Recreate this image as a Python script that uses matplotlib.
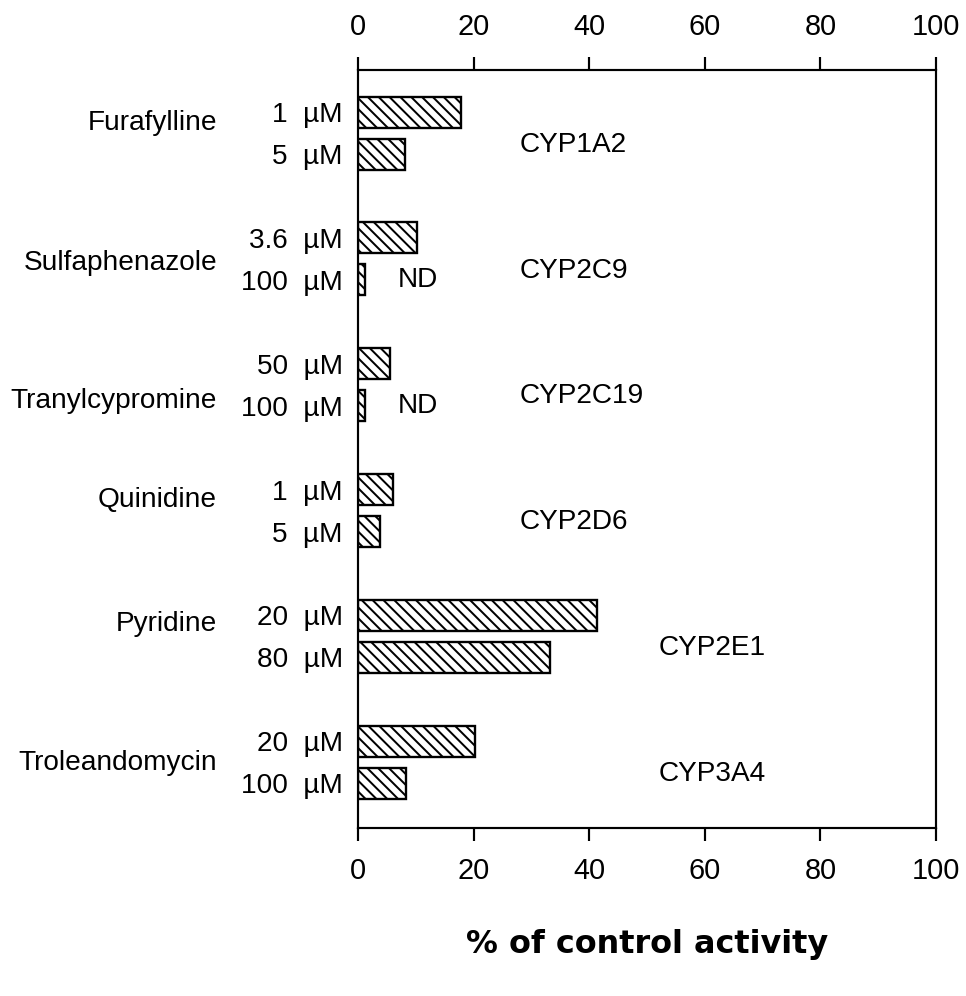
import matplotlib
matplotlib.use("Agg")
import matplotlib.pyplot as plt
import matplotlib.transforms as mtransforms

# ---- data ----
drugs = ["Furafylline", "Sulfaphenazole", "Tranylcypromine", "Quinidine", "Pyridine", "Troleandomycin"]
enzymes = ["CYP1A2", "CYP2C9", "CYP2C19", "CYP2D6", "CYP2E1", "CYP3A4"]
conc_labels = [["1  µM", "5  µM"], ["3.6  µM", "100  µM"], ["50  µM", "100  µM"],
               ["1  µM", "5  µM"], ["20  µM", "80  µM"], ["20  µM", "100  µM"]]
activity = [[17.8, 8.1], [10.2, 1.2], [5.5, 1.2], [6.0, 3.8], [41.3, 33.2], [20.2, 8.3]]
not_detected = [[False, False], [False, True], [False, True], [False, False], [False, False], [False, False]]
xticks = [0, 20, 40, 60, 80, 100]
xlabel = "% of control activity"

# ---- layout ----
DPI = 130
pair_offset = 0.334
bar_h = 0.246
drug_label_off = [0.087, 0.20, 0.30, 0.08, 0.07, 0.17]
enzyme_x = [28, 28, 28, 28, 52, 52]
enzyme_off = 0.26

plt.rcParams['font.family'] = ['Liberation Sans', 'DejaVu Sans']
plt.rcParams['hatch.linewidth'] = 1.1
plt.rcParams['hatch.color'] = 'black'

fig = plt.figure(figsize=(966 / DPI, 996 / DPI), dpi=DPI)
ax = fig.add_axes([358 / 966, 1 - 828 / 996, 578 / 966, 758 / 996])

fs = 15.5
ypos, ylabels = [], []
for g in range(len(drugs)):
    for k in range(2):
        y = g + k * pair_offset
        ax.barh(y, activity[g][k], height=bar_h, color='white', edgecolor='black',
                linewidth=1.3, hatch='\\\\\\\\', zorder=2)
        ypos.append(y)
        ylabels.append(conc_labels[g][k])
        if not_detected[g][k]:
            ax.text(6.9, y, "ND", ha='left', va='center', fontsize=fs)
    ax.text(enzyme_x[g], g + enzyme_off, enzymes[g], ha='left', va='center', fontsize=fs)

trans = mtransforms.blended_transform_factory(ax.transAxes, ax.transData)
for g, d in enumerate(drugs):
    ax.text(-0.244, g + drug_label_off[g], d, transform=trans, ha='right', va='center', fontsize=fs)

ax.set_xlim(0, 100)
ax.set_ylim(5.69, -0.334)
ax.set_yticks(ypos)
ax.set_yticklabels(ylabels, fontsize=fs)
ax.tick_params(axis='y', length=0, pad=8.5)
ax.set_xticks(xticks)
ax.set_xticklabels([str(t) for t in xticks])
ax.tick_params(axis='x', which='both', top=True, labeltop=True, bottom=True, labelbottom=True,
               direction='out', length=7.2, width=1.2, labelsize=16, pad=9)
for s in ax.spines.values():
    s.set_linewidth(1.2)

fig.text(647 / 966, 1 - 945 / 996, xlabel, ha='center', va='center',
         fontsize=17.7, fontweight='bold', family='DejaVu Sans')

fig.savefig("out.png", dpi=DPI)
